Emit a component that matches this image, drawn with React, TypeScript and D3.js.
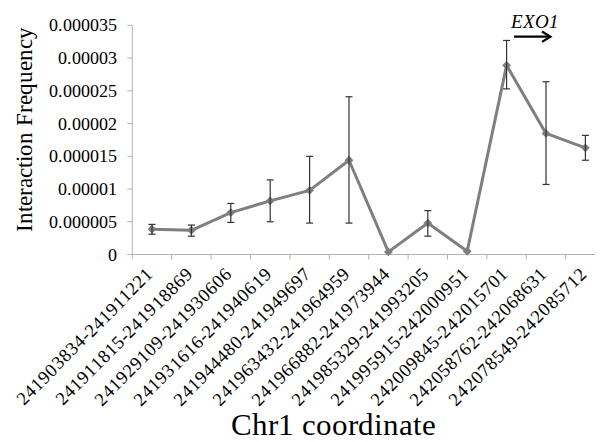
import React from "react";
import * as d3 from "d3";

const coords = [
  "241903834-241911221",
  "241911815-241918869",
  "241929109-241930606",
  "241931616-241940619",
  "241944480-241949697",
  "241963432-241964959",
  "241966882-241973944",
  "241985329-241993205",
  "241995915-242000951",
  "242009845-242015701",
  "242058762-242068631",
  "242078549-242085712",
];

// interaction frequency and error bar ends
const freq = [3.87e-6, 3.7e-6, 6.4e-6, 8.2e-6, 9.8e-6, 14.4e-6, 0.4e-6, 4.8e-6, 0.5e-6, 28.9e-6, 18.5e-6, 16.3e-6];
const errHi = [4.6e-6, 4.5e-6, 7.8e-6, 11.4e-6, 15.0e-6, 24.1e-6, null, 6.7e-6, null, 32.7e-6, 26.4e-6, 18.2e-6];
const errLo = [3.1e-6, 2.8e-6, 4.9e-6, 5.0e-6, 4.8e-6, 4.8e-6, null, 2.8e-6, null, 25.3e-6, 10.7e-6, 14.4e-6];

const yTicks = [0, 0.000005, 0.00001, 0.000015, 0.00002, 0.000025, 0.00003, 0.000035];
const yTickLabels = ["0", "0.000005", "0.00001", "0.000015", "0.00002", "0.000025", "0.00003", "0.000035"];

const SERIF = '"ChartSerif", "Liberation Serif", Tinos, "Times New Roman", "DejaVu Serif"';
const fontCss = `
@font-face { font-family: "ChartSerif"; src: local("Liberation Serif"), local("LiberationSerif"), local("Liberation Serif Regular"), local("LiberationSerif-Regular"); font-style: normal; font-display: swap; }
@font-face { font-family: "ChartSerif"; src: local("Liberation Serif Italic"), local("LiberationSerif-Italic"); font-style: italic; font-display: swap; }
.chart text { font-family: ${SERIF}; }
`;

export default function App() {
  const W = 603, H = 442;
  const left = 132.3, top = 25.4, bottom = 254.5;
  const bw = 39.4;
  const right = left + bw * coords.length;

  const x = d3.scaleBand().domain(coords).range([left, right]);
  const y = d3.scaleLinear().domain([0, 0.000035]).range([bottom, top]);

  const cx = (i: number) => (x(coords[i]) as number) + x.bandwidth() / 2;

  const line = d3.line<number>()
    .x((d, i) => cx(i))
    .y((d) => y(d));

  const gridColor = "#b3b3b3";
  const tx = { fontFamily: SERIF };

  return (
    <svg className="chart" width={W} height={H} style={{ display: "block", margin: "-8px 0 0 -8px" }}>
      <style>{fontCss}</style>
      <rect x={0} y={0} width={W} height={H} fill="#fff" />
      {/* axes */}
      <line x1={left} x2={left} y1={top} y2={bottom + 4} stroke={gridColor} strokeWidth={1} />
      <line x1={left - 5} x2={right} y1={bottom} y2={bottom} stroke={gridColor} strokeWidth={1} />
      {yTicks.map((t, i) => (
        <g key={"y" + i}>
          <line x1={left - 5} x2={left} y1={y(t)} y2={y(t)} stroke={gridColor} />
          <text x={117} y={y(t) + 6} textAnchor="end" style={tx} fontSize={18} fill="#000">
            {yTickLabels[i]}
          </text>
        </g>
      ))}
      {coords.map((c, i) => (
        <line key={"xt" + i} x1={(x(c) as number) + bw} x2={(x(c) as number) + bw} y1={bottom} y2={bottom + 5} stroke={gridColor} />
      ))}
      {coords.map((c, i) => (
        <text
          key={"xl" + i}
          transform={`translate(${cx(i) + 2.5},${bottom + 20.5}) rotate(-45)`}
          textAnchor="end"
          style={tx}
          fontSize={18.5}
          fill="#000"
        >
          {c}
        </text>
      ))}

      {/* series */}
      <path d={line(freq) || ""} fill="none" stroke="#7f7f7f" strokeWidth={3} strokeLinejoin="round" />
      {freq.map((v, i) => (
        <path
          key={"m" + i}
          d={d3.symbol(d3.symbolDiamond2, 50)() || ""}
          transform={`translate(${cx(i)},${y(v)})`}
          fill="#7f7f7f"
        />
      ))}
      {freq.map((v, i) =>
        errHi[i] == null ? null : (
          <g key={"e" + i} stroke="#333" strokeWidth={1.2}>
            <line x1={cx(i)} x2={cx(i)} y1={y(errHi[i] as number)} y2={y(errLo[i] as number)} />
            <line x1={cx(i) - 3.5} x2={cx(i) + 3.5} y1={y(errHi[i] as number)} y2={y(errHi[i] as number)} />
            <line x1={cx(i) - 3.5} x2={cx(i) + 3.5} y1={y(errLo[i] as number)} y2={y(errLo[i] as number)} />
          </g>
        )
      )}

      {/* EXO1 annotation */}
      <text x={511} y={28} style={tx} fontStyle="italic" fontSize={19} fill="#000">EXO1</text>
      <line x1={514} x2={550} y1={36.7} y2={36.7} stroke="#000" strokeWidth={2.2} />
      <path d="M542,31.5 L550.5,36.7 L542,41.9" fill="none" stroke="#000" strokeWidth={2.2} />

      {/* titles */}
      <text
        transform="translate(31.5,129) rotate(-90)"
        textAnchor="middle"
        style={tx}
        fontSize={22.5}
        fill="#000"
      >
        Interaction Frequency
      </text>
      <text x={333.7} y={434.5} textAnchor="middle" style={tx} fontSize={31} fill="#000">
        Chr1 coordinate
      </text>
    </svg>
  );
}
